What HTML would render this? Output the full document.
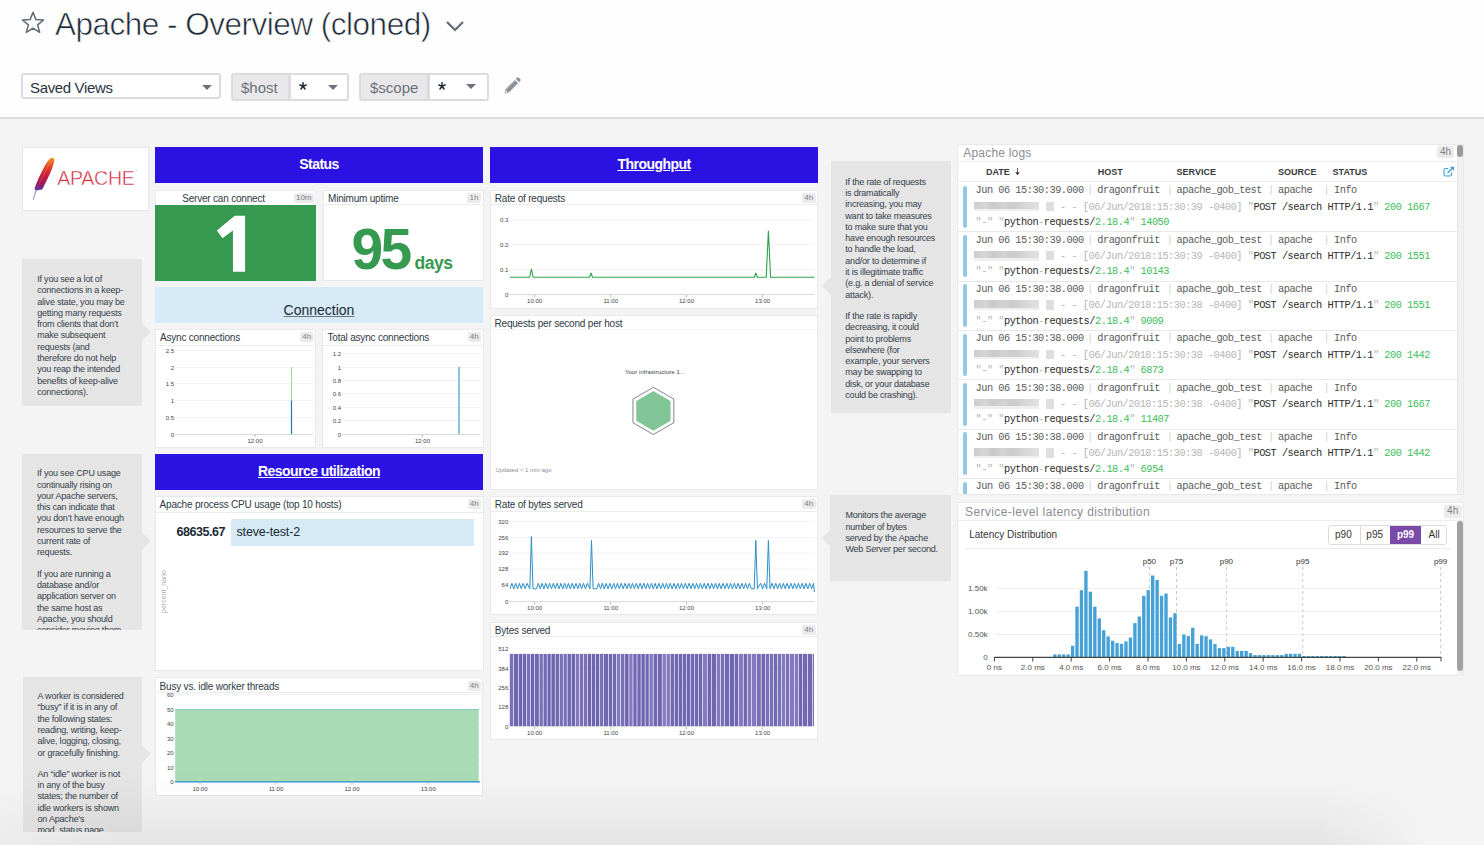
<!DOCTYPE html>
<html><head><meta charset="utf-8">
<style>
*{box-sizing:border-box;margin:0;padding:0}
html,body{width:1484px;height:845px;overflow:hidden}
body{position:relative;background:#f4f4f4;font-family:"Liberation Sans",sans-serif;color:#2a3540}
.a{position:absolute}
#hdr{left:0;top:0;width:1484px;height:117px;background:#fefefe}
#hline{left:0;top:117px;width:1484px;height:2px;background:#dddbe0}
#title{left:55px;top:4px;font-size:31.5px;line-height:40px;letter-spacing:-0.5px;color:#1c2b36;white-space:nowrap;-webkit-text-stroke:0.6px #fefefe}
.sel{border:2px solid #dcdce0;border-radius:3px;background:#fff;height:27px}
.tri{width:0;height:0;border-left:5.2px solid transparent;border-right:5.2px solid transparent;border-top:5.7px solid #6b747c}
.ctl{font-size:15px;line-height:23px;white-space:nowrap}
.vg{background:#e8e8eb;color:#6b7079}
/* widgets */
.w{background:#fff;border:1px solid #e9e9ec}
.wt{font-size:10px;color:#2e3a45;white-space:nowrap;line-height:12px;letter-spacing:-0.2px;margin-top:0.8px}
.sep{height:1px;background:#ececef}
.bd{background:#ebebed;color:#7d8186;font-size:8px;line-height:10px;text-align:center;border-radius:2px}
.hb{background:#2c12e2;color:#fff;font-weight:bold;font-size:14px;text-align:center;letter-spacing:-0.55px;line-height:34px !important}
.note{background:#e5e5e5;color:#34404a;font-size:9px;line-height:11.3px;letter-spacing:-0.2px;white-space:nowrap;overflow:hidden}
.arr{width:0;height:0;border-top:9.5px solid transparent;border-bottom:9.5px solid transparent;border-left:9.5px solid #e5e5e5}
.ax{font-size:6px;color:#4a4f55;white-space:nowrap;line-height:8px}
.mono{font-family:"Liberation Mono",monospace}
</style></head><body>
<div id="hdr" class="a"></div>
<div id="hline" class="a"></div>
<svg class="a" style="left:20px;top:10px" width="26" height="26" viewBox="0 0 26 26"><path d="M13 2.3 L15.9 9.6 L23.6 10 L17.6 14.9 L19.7 22.4 L13 18.2 L6.3 22.4 L8.4 14.9 L2.4 10 L10.1 9.6 Z" fill="none" stroke="#5f6972" stroke-width="1.5" stroke-linejoin="round"/></svg>
<div id="title" class="a">Apache - Overview (cloned)</div>
<svg class="a" style="left:445px;top:20px" width="20" height="13" viewBox="0 0 20 13"><path d="M2 2 L10 10 L18 2" fill="none" stroke="#5f6b75" stroke-width="2.2"/></svg>

<div class="a sel" style="left:21px;top:73px;width:200px;height:26px"></div>
<div class="a ctl" style="left:30px;top:75.8px;color:#2a3540;letter-spacing:-0.35px">Saved Views</div>
<div class="a tri" style="left:201.7px;top:84.6px"></div>

<div class="a sel" style="left:231px;top:73px;width:118px;height:28px"></div>
<div class="a vg" style="left:233px;top:75px;width:55px;height:24px"></div>
<div class="a" style="left:288px;top:75px;width:2.5px;height:24px;background:#dddbe0"></div>
<div class="a ctl" style="left:241px;top:76px;color:#6b7079">$host</div>
<svg class="a ast" style="left:298.5px;top:81.5px" width="8" height="8" viewBox="0 0 8 8"><g stroke="#1c2b36" stroke-width="1.5" stroke-linecap="round"><line x1="4" y1="0.8" x2="4" y2="4.2"/><line x1="0.8" y1="3" x2="4" y2="4.2"/><line x1="7.2" y1="3" x2="4" y2="4.2"/><line x1="2" y1="7" x2="4" y2="4.2"/><line x1="6" y1="7" x2="4" y2="4.2"/></g></svg>
<div class="a tri" style="left:328px;top:84.6px"></div>

<div class="a sel" style="left:359px;top:73px;width:130px;height:28px"></div>
<div class="a vg" style="left:361px;top:75px;width:66px;height:24px"></div>
<div class="a" style="left:427px;top:75px;width:2.5px;height:24px;background:#dddbe0"></div>
<div class="a ctl" style="left:370px;top:76px;color:#6b7079">$scope</div>
<svg class="a ast" style="left:437.8px;top:81.5px" width="8" height="8" viewBox="0 0 8 8"><g stroke="#1c2b36" stroke-width="1.5" stroke-linecap="round"><line x1="4" y1="0.8" x2="4" y2="4.2"/><line x1="0.8" y1="3" x2="4" y2="4.2"/><line x1="7.2" y1="3" x2="4" y2="4.2"/><line x1="2" y1="7" x2="4" y2="4.2"/><line x1="6" y1="7" x2="4" y2="4.2"/></g></svg>
<div class="a tri" style="left:465.8px;top:84.4px"></div>
<svg class="a" style="left:503px;top:77px" width="18" height="18" viewBox="0 0 18 18"><path d="M1.5 16.5 L2.6 12.2 L11.8 3 L15 6.2 L5.8 15.4 Z" fill="#8a9097"/><path d="M12.8 2 L14.2 0.6 Q15 0 15.8 0.7 L17.3 2.2 Q18 3 17.3 3.8 L16 5.2 Z" fill="#8a9097"/><path d="M2.3 15.7 L2.9 13.3 L4.7 15.1 Z" fill="#fff"/><line x1="3.5" y1="12.5" x2="12" y2="4" stroke="#fff" stroke-width="0.5" opacity="0.6"/></svg>

<!-- logo -->
<div class="a w" style="left:22px;top:147px;width:127px;height:64px;border-color:#e6e6ea"></div>
<svg class="a" style="left:30px;top:155px" width="112" height="50" viewBox="0 0 112 50">
<defs><linearGradient id="fg" x1="0" y1="0" x2="0" y2="1"><stop offset="0" stop-color="#f7941e"/><stop offset="0.3" stop-color="#e0412a"/><stop offset="0.5" stop-color="#cf1f3a"/><stop offset="0.78" stop-color="#a0185a"/><stop offset="0.92" stop-color="#6a2a88"/><stop offset="1" stop-color="#7e5aa8"/></linearGradient></defs>
<path d="M22 2.8 C23.8 2.6 24.8 4.5 24.2 6.5 C23 11 21.5 15.5 20.8 16.7 L17.7 23.5 L13.7 31.5 L12.2 34.5 L6 35.8 L4.5 34 C5 32 5.5 31 6 29.6 L8.8 22.8 L13.4 13.6 C15 10 17 7 18.3 5.6 C19.5 4 20.5 3 22 2.8 Z" fill="url(#fg)"/>
<path d="M20.5 6 L7 33" stroke="#fff" stroke-width="0.4" opacity="0.35"/>
<path d="M6.3 35 L3.2 44.7" stroke="#8a72b0" stroke-width="0.9"/>
<text x="27.2" y="30.2" font-family="Liberation Sans" font-size="19.6" fill="#d02c3e" stroke="#fff" stroke-width="0.45" letter-spacing="-0.3">APACHE</text>
<circle cx="106.5" cy="15.5" r="0.6" fill="#bbb"/>
</svg>

<!-- status header -->
<div class="a hb" style="left:155px;top:147px;width:328px;height:36px;line-height:36px">Status</div>
<!-- server can connect -->
<div class="a w" style="left:155px;top:190px;width:161px;height:91px;border-color:#ececef"></div>
<div class="a wt" style="left:155px;top:191px;width:137px;text-align:center;line-height:13px">Server can connect</div>
<div class="a bd" style="left:294px;top:192.5px;width:19.5px;height:10px">10m</div>
<div class="a" style="left:155px;top:204.5px;width:161px;height:76.5px;background:#359a50"></div>
<svg class="a" style="left:210px;top:210px" width="40" height="66" viewBox="210 210 40 66"><path d="M234.7 215.8 L245.1 215.8 L245.1 271.7 L232.95 271.7 L232.95 230.6 L222.5 238.3 L216.9 230.5 Z" fill="#fff"/></svg>
<!-- minimum uptime -->
<div class="a w" style="left:322.5px;top:190px;width:161px;height:90.5px"></div>
<div class="a wt" style="left:328px;top:191px;line-height:13px">Minimum uptime</div>
<div class="a bd" style="left:467px;top:192.5px;width:14px;height:10px">1h</div>
<div class="a sep" style="left:323px;top:204px;width:160px"></div>
<div class="a" style="left:351.5px;top:219.3px;color:#359a50;font-weight:bold;font-size:57px;line-height:60px;letter-spacing:-2.8px;white-space:nowrap">95</div><div class="a" style="left:414.5px;top:253px;color:#359a50;font-weight:bold;font-size:17.5px;line-height:20px;letter-spacing:-0.5px;white-space:nowrap">days</div>

<!-- connection -->
<div class="a" style="left:155px;top:287px;width:328px;height:35.5px;background:#d6eaf8"></div>
<div class="a" style="left:155px;top:302px;width:328px;text-align:center;font-size:14px;line-height:16px;color:#1c2b36;text-decoration:underline;text-decoration-color:#6a7680">Connection</div>

<!-- async connections -->
<div class="a w" style="left:154.5px;top:328.5px;width:161.5px;height:119px"></div>
<div class="a wt" style="left:160px;top:331px">Async connections</div>
<div class="a bd" style="left:300px;top:332px;width:13.5px;height:10px">4h</div>
<div class="a sep" style="left:155px;top:344.5px;width:160.5px"></div>
<svg class="a" style="left:155px;top:345px" width="161" height="102" viewBox="155 345 161 102">
<g stroke="#f3f3f5" stroke-width="1">
<line x1="175.5" x2="313" y1="350.5" y2="350.5"/><line x1="175.5" x2="313" y1="367.5" y2="367.5"/><line x1="175.5" x2="313" y1="383.5" y2="383.5"/><line x1="175.5" x2="313" y1="400.5" y2="400.5"/><line x1="175.5" x2="313" y1="417.5" y2="417.5"/></g>
<line x1="175.5" x2="313" y1="434.5" y2="434.5" stroke="#d8d8dc"/>
<line x1="255" x2="255" y1="434.5" y2="437" stroke="#bbb"/>
<g font-family="Liberation Sans" font-size="6" fill="#3e454c" text-anchor="end">
<text x="174" y="352.5">2.5</text><text x="174" y="369.5">2</text><text x="174" y="385.5">1.5</text><text x="174" y="402.5">1</text><text x="174" y="419.5">0.5</text><text x="174" y="436.5">0</text></g>
<text x="255" y="443" font-family="Liberation Sans" font-size="6" fill="#3e454c" text-anchor="middle">12:00</text>
<line x1="291.5" x2="291.5" y1="367" y2="400.5" stroke="#9fd89f" stroke-width="1"/>
<line x1="291.5" x2="291.5" y1="400.5" y2="434" stroke="#1f77b4" stroke-width="1.2"/>
</svg>

<!-- total async -->
<div class="a w" style="left:322.3px;top:328.5px;width:161.4px;height:119px"></div>
<div class="a wt" style="left:327.5px;top:331px">Total async connections</div>
<div class="a bd" style="left:467.5px;top:332px;width:13.5px;height:10px">4h</div>
<div class="a sep" style="left:323px;top:344.5px;width:160px"></div>
<svg class="a" style="left:323px;top:345px" width="161" height="102" viewBox="323 345 161 102">
<g stroke="#f3f3f5" stroke-width="1">
<line x1="342.5" x2="480" y1="353.5" y2="353.5"/><line x1="342.5" x2="480" y1="367.5" y2="367.5"/><line x1="342.5" x2="480" y1="380.5" y2="380.5"/><line x1="342.5" x2="480" y1="393.5" y2="393.5"/><line x1="342.5" x2="480" y1="407.5" y2="407.5"/><line x1="342.5" x2="480" y1="420.5" y2="420.5"/></g>
<line x1="342.5" x2="480" y1="434.5" y2="434.5" stroke="#d8d8dc"/>
<line x1="422.5" x2="422.5" y1="434.5" y2="437" stroke="#bbb"/>
<g font-family="Liberation Sans" font-size="6" fill="#3e454c" text-anchor="end">
<text x="341" y="355.5">1.2</text><text x="341" y="369.5">1</text><text x="341" y="382.5">0.8</text><text x="341" y="395.5">0.6</text><text x="341" y="409.5">0.4</text><text x="341" y="422.5">0.2</text><text x="341" y="436.5">0</text></g>
<text x="422.5" y="443" font-family="Liberation Sans" font-size="6" fill="#3e454c" text-anchor="middle">12:00</text>
<line x1="459" x2="459" y1="367" y2="434" stroke="#8cc3e0" stroke-width="2"/>
</svg>

<!-- resource utilization -->
<div class="a hb" style="left:155px;top:454px;width:328px;height:36px;line-height:36px"><span style="text-decoration:underline">Resource utilization</span></div>

<!-- cpu usage -->
<div class="a w" style="left:155px;top:495.7px;width:328.5px;height:175px"></div>
<div class="a wt" style="left:159.6px;top:498.5px">Apache process CPU usage (top 10 hosts)</div>
<div class="a bd" style="left:467.5px;top:499px;width:13.5px;height:10px">4h</div>
<div class="a sep" style="left:156px;top:511.5px;width:327px"></div>
<div class="a" style="left:231px;top:519px;width:243px;height:26.7px;background:#d6eaf5"></div>
<div class="a" style="left:140px;top:524px;width:85px;text-align:right;font-weight:bold;font-size:12.5px;line-height:16px;letter-spacing:-0.45px;color:#1c2b36">68635.67</div>
<div class="a" style="left:236.5px;top:524px;font-size:12.5px;line-height:16px;letter-spacing:-0.15px;color:#1c2b36">steve-test-2</div>
<div class="a" style="left:141px;top:587px;width:44px;text-align:center;font-size:7px;line-height:9px;color:#a5a9ae;transform:rotate(-90deg)">percent_nano</div>

<!-- busy vs idle -->
<div class="a w" style="left:154.6px;top:677.3px;width:328.7px;height:119px"></div>
<div class="a wt" style="left:159.6px;top:680px">Busy vs. idle worker threads</div>
<div class="a bd" style="left:467.5px;top:680.5px;width:13.5px;height:10px">4h</div>
<div class="a sep" style="left:155.5px;top:692px;width:327px"></div>
<svg class="a" style="left:155px;top:693px" width="328" height="103" viewBox="155 693 328 103">
<g stroke="#f3f3f5" stroke-width="1">
<line x1="175" x2="480" y1="694.5" y2="694.5"/><line x1="175" x2="480" y1="709.5" y2="709.5"/><line x1="175" x2="480" y1="723.5" y2="723.5"/><line x1="175" x2="480" y1="738.5" y2="738.5"/><line x1="175" x2="480" y1="752.5" y2="752.5"/><line x1="175" x2="480" y1="767.5" y2="767.5"/></g>
<rect x="175.2" y="709.4" width="303.5" height="72.2" fill="#a9dbb5"/>
<line x1="175.2" x2="478.7" y1="709.6" y2="709.6" stroke="#6cc7ad" stroke-width="0.8"/>
<line x1="175" x2="480" y1="781.8" y2="781.8" stroke="#1f8bc9" stroke-width="1.2"/>
<g stroke="#bbb"><line x1="200" x2="200" y1="782" y2="784.5"/><line x1="276" x2="276" y1="782" y2="784.5"/><line x1="352" x2="352" y1="782" y2="784.5"/><line x1="428.3" x2="428.3" y1="782" y2="784.5"/></g>
<g font-family="Liberation Sans" font-size="6" fill="#3e454c" text-anchor="end">
<text x="173.6" y="696.7">60</text><text x="173.6" y="711.5">50</text><text x="173.6" y="726">40</text><text x="173.6" y="740.5">30</text><text x="173.6" y="755">20</text><text x="173.6" y="770">10</text><text x="173.6" y="783.8">0</text></g>
<g font-family="Liberation Sans" font-size="6" fill="#3e454c" text-anchor="middle">
<text x="200" y="791">10:00</text><text x="276" y="791">11:00</text><text x="352" y="791">12:00</text><text x="428.3" y="791">13:00</text></g>
</svg>

<!-- notes left -->
<div class="a note" style="left:22.2px;top:258.5px;width:119.6px;height:147.7px;padding:15.5px 0 0 15px">If you see a lot of<br>connections in a keep-<br>alive state, you may be<br>getting many requests<br>from clients that don’t<br>make subsequent<br>requests (and<br>therefore do not help<br>you reap the intended<br>benefits of keep-alive<br>connections).</div>
<div class="a arr" style="left:141.8px;top:322.9px"></div>
<div class="a note" style="left:22px;top:453.8px;width:120px;height:175.8px;padding:14.5px 0 0 15px">If you see CPU usage<br>continually rising on<br>your Apache servers,<br>this can indicate that<br>you don’t have enough<br>resources to serve the<br>current rate of<br>requests.<div style="height:10px"></div>If you are running a<br>database and/or<br>application server on<br>the same host as<br>Apache, you should<br>consider moving them</div>
<div class="a arr" style="left:142px;top:532px"></div>
<div class="a note" style="left:22.5px;top:677.1px;width:119.7px;height:154.5px;padding:14px 0 0 15px">A worker is considered<br>“busy” if it is in any of<br>the following states:<br>reading, writing, keep-<br>alive, logging, closing,<br>or gracefully finishing.<div style="height:10px"></div>An “idle” worker is not<br>in any of the busy<br>states; the number of<br>idle workers is shown<br>on Apache’s<br>mod_status page.</div>
<div class="a arr" style="left:142.2px;top:744.5px"></div>

<!-- throughput header -->
<div class="a hb" style="left:490px;top:147px;width:328px;height:36px;line-height:36px"><span style="text-decoration:underline">Throughput</span></div>

<!-- rate of requests -->
<div class="a w" style="left:489.8px;top:189.5px;width:328px;height:119px"></div>
<div class="a wt" style="left:494.8px;top:192px">Rate of requests</div>
<div class="a bd" style="left:802px;top:192.5px;width:13.5px;height:10px">4h</div>
<div class="a sep" style="left:490.5px;top:204.3px;width:326.5px"></div>
<svg class="a" style="left:490px;top:205px" width="328" height="103" viewBox="490 205 328 103">
<g stroke="#f3f3f5" stroke-width="1">
<line x1="510" x2="814.4" y1="220" y2="220"/><line x1="510" x2="814.4" y1="244.5" y2="244.5"/><line x1="510" x2="814.4" y1="269.5" y2="269.5"/></g>
<line x1="510" x2="814.4" y1="294.6" y2="294.6" stroke="#d8d8dc"/>
<g stroke="#bbb"><line x1="534.6" x2="534.6" y1="295" y2="297.5"/><line x1="610.7" x2="610.7" y1="295" y2="297.5"/><line x1="686.5" x2="686.5" y1="295" y2="297.5"/><line x1="762.6" x2="762.6" y1="295" y2="297.5"/></g>
<g font-family="Liberation Sans" font-size="6" fill="#3e454c" text-anchor="end">
<text x="508.3" y="222">0.3</text><text x="508.3" y="246.7">0.2</text><text x="508.3" y="271.7">0.1</text><text x="508.3" y="296.7">0</text></g>
<g font-family="Liberation Sans" font-size="6" fill="#3e454c" text-anchor="middle"><text x="534.6" y="303">10:00</text><text x="610.7" y="303">11:00</text><text x="686.5" y="303">12:00</text><text x="762.6" y="303">13:00</text></g>
<path d="M510.0 277.3 L529.6 277.3 L531.4 269.0 L533.2 277.3 L589.5 277.3 L591.0 273.0 L592.5 277.3 L754.3 277.3 L755.8 273.0 L757.3 277.3 L766.2 277.3 L768.4 231.0 L770.6 277.3 L814.4 277.3" fill="none" stroke="#2ea24a" stroke-width="1.1" stroke-linejoin="round"/>
</svg>

<!-- requests per second per host -->
<div class="a w" style="left:489.8px;top:314.7px;width:328px;height:175.4px"></div>
<div class="a wt" style="left:494.5px;top:317px">Requests per second per host</div>
<div class="a sep" style="left:490.5px;top:329px;width:326.5px;background:#f4f4f6"></div>
<div class="a" style="left:590px;top:367.5px;width:130px;text-align:center;font-size:6px;line-height:8px;letter-spacing:0.05px;color:#3a4047">Your infrastructure 1...</div>
<svg class="a" style="left:628px;top:384px" width="52" height="54" viewBox="628 384 52 54">
<polygon points="653.40,387.30 673.84,399.10 673.84,422.70 653.40,434.50 632.96,422.70 632.96,399.10" fill="none" stroke="#2f3336" stroke-width="0.6"/>
<polygon points="653.40,391.10 670.55,401.00 670.55,420.80 653.40,430.70 636.25,420.80 636.25,401.00" fill="#82c596"/>
</svg>
<div class="a" style="left:495.6px;top:465.8px;font-size:6px;line-height:8px;color:#8a8f95;white-space:nowrap">Updated &lt; 1 min ago</div>

<!-- rate of bytes served -->
<div class="a w" style="left:490px;top:496px;width:328px;height:119.3px"></div>
<div class="a wt" style="left:494.8px;top:498.5px">Rate of bytes served</div>
<div class="a bd" style="left:802px;top:499px;width:13.5px;height:10px">4h</div>
<div class="a sep" style="left:490.5px;top:511.3px;width:326.5px"></div>
<svg class="a" style="left:490px;top:512px" width="328" height="103" viewBox="490 512 328 103">
<g stroke="#f3f3f5" stroke-width="1">
<line x1="510" x2="814.4" y1="521.3" y2="521.3"/><line x1="510" x2="814.4" y1="537.5" y2="537.5"/><line x1="510" x2="814.4" y1="553.2" y2="553.2"/><line x1="510" x2="814.4" y1="569.2" y2="569.2"/><line x1="510" x2="814.4" y1="585" y2="585"/></g>
<line x1="510" x2="814.4" y1="601.6" y2="601.6" stroke="#d8d8dc"/>
<g stroke="#bbb"><line x1="534.6" x2="534.6" y1="602" y2="604.5"/><line x1="610.7" x2="610.7" y1="602" y2="604.5"/><line x1="686.5" x2="686.5" y1="602" y2="604.5"/><line x1="762.6" x2="762.6" y1="602" y2="604.5"/></g>
<g font-family="Liberation Sans" font-size="6" fill="#3e454c" text-anchor="end">
<text x="508.3" y="523.5">320</text><text x="508.3" y="539.7">256</text><text x="508.3" y="555.4">192</text><text x="508.3" y="571.4">128</text><text x="508.3" y="587.2">64</text><text x="508.3" y="603.8">0</text></g>
<g font-family="Liberation Sans" font-size="6" fill="#3e454c" text-anchor="middle"><text x="534.6" y="610">10:00</text><text x="610.7" y="610">11:00</text><text x="686.5" y="610">12:00</text><text x="762.6" y="610">13:00</text></g>
<path d="M510.0 588.8 L511.9 583.3 L513.8 588.8 L515.7 583.3 L517.5 588.8 L519.4 583.3 L521.3 588.8 L523.2 583.3 L525.1 588.8 L527.0 583.3 L529.8 588.8 L531.4 536.5 L533.0 588.8 L536.4 588.8 L538.3 583.3 L540.2 588.8 L542.0 583.3 L543.9 588.8 L545.8 583.3 L547.7 588.8 L549.6 583.3 L551.5 588.8 L553.4 583.3 L555.2 588.8 L557.1 583.3 L559.0 588.8 L560.9 583.3 L562.8 588.8 L564.7 583.3 L566.5 588.8 L568.4 583.3 L570.3 588.8 L572.2 583.3 L574.1 588.8 L576.0 583.3 L577.9 588.8 L579.7 583.3 L581.6 588.8 L583.5 583.3 L585.4 588.8 L587.3 583.3 L589.9 588.8 L591.5 540.5 L593.1 588.8 L596.7 588.8 L598.6 583.3 L600.5 588.8 L602.4 583.3 L604.2 588.8 L606.1 583.3 L608.0 588.8 L609.9 583.3 L611.8 588.8 L613.7 583.3 L615.6 588.8 L617.4 583.3 L619.3 588.8 L621.2 583.3 L623.1 588.8 L625.0 583.3 L626.9 588.8 L628.8 583.3 L630.6 588.8 L632.5 583.3 L634.4 588.8 L636.3 583.3 L638.2 588.8 L640.1 583.3 L642.0 588.8 L643.8 583.3 L645.7 588.8 L647.6 583.3 L649.5 588.8 L651.4 583.3 L653.3 588.8 L655.1 583.3 L657.0 588.8 L658.9 583.3 L660.8 588.8 L662.7 583.3 L664.6 588.8 L666.5 583.3 L668.3 588.8 L670.2 583.3 L672.1 588.8 L674.0 583.3 L675.9 588.8 L677.8 583.3 L679.6 588.8 L681.5 583.3 L683.4 588.8 L685.3 583.3 L687.2 588.8 L689.1 583.3 L691.0 588.8 L692.8 583.3 L694.7 588.8 L696.6 583.3 L698.5 588.8 L700.4 583.3 L702.3 588.8 L704.2 583.3 L706.0 588.8 L707.9 583.3 L709.8 588.8 L711.7 583.3 L713.6 588.8 L715.5 583.3 L717.4 588.8 L719.2 583.3 L721.1 588.8 L723.0 583.3 L724.9 588.8 L726.8 583.3 L728.7 588.8 L730.5 583.3 L732.4 588.8 L734.3 583.3 L736.2 588.8 L738.1 583.3 L740.0 588.8 L741.9 583.3 L743.7 588.8 L745.6 583.3 L747.5 588.8 L749.4 583.3 L751.3 588.8 L754.2 588.8 L755.8 540.5 L757.4 588.8 L760.7 583.3 L762.6 588.8 L764.5 583.3 L766.8 588.8 L768.4 540.5 L770.0 588.8 L772.0 583.3 L773.9 588.8 L775.8 583.3 L777.7 588.8 L779.6 583.3 L781.4 588.8 L783.3 583.3 L785.2 588.8 L787.1 583.3 L789.0 588.8 L790.9 583.3 L792.8 588.8 L794.6 583.3 L796.5 588.8 L798.4 583.3 L800.3 588.8 L802.2 583.3 L804.1 588.8 L805.9 583.3 L807.8 588.8 L809.7 583.3 L811.6 588.8 L813.5 583.3 L814.4 592.0" fill="none" stroke="#2b8fc8" stroke-width="1" stroke-linejoin="round"/>
</svg>

<!-- bytes served -->
<div class="a w" style="left:490px;top:621.8px;width:328px;height:118.2px"></div>
<div class="a wt" style="left:494.8px;top:624px">Bytes served</div>
<div class="a bd" style="left:802px;top:625px;width:13.5px;height:10px">4h</div>
<div class="a sep" style="left:490.5px;top:636.2px;width:326.5px"></div>
<svg class="a" style="left:490px;top:637px" width="328" height="103" viewBox="490 637 328 103">
<g stroke="#f3f3f5" stroke-width="1">
<line x1="510" x2="814.4" y1="648.8" y2="648.8"/><line x1="510" x2="814.4" y1="668.3" y2="668.3"/><line x1="510" x2="814.4" y1="687.7" y2="687.7"/><line x1="510" x2="814.4" y1="706.8" y2="706.8"/></g>
<g fill="#7b70bd"><rect x="509.80" y="653.9" width="3.40" height="72.5" fill="#7a70b8"/><rect x="513.85" y="653.9" width="4.20" height="72.5" fill="#6f64b0"/><rect x="518.70" y="653.9" width="3.30" height="72.5" fill="#6f64b0"/><rect x="522.65" y="653.9" width="3.40" height="72.5" fill="#6f64b0"/><rect x="526.70" y="653.9" width="3.40" height="72.5" fill="#7a70b8"/><rect x="530.75" y="653.9" width="3.30" height="72.5" fill="#6f64b0"/><rect x="534.70" y="653.9" width="4.20" height="72.5" fill="#7268b2"/><rect x="539.55" y="653.9" width="3.30" height="72.5" fill="#7a70b8"/><rect x="543.50" y="653.9" width="3.30" height="72.5" fill="#7268b2"/><rect x="547.45" y="653.9" width="3.30" height="72.5" fill="#6f64b0"/><rect x="551.40" y="653.9" width="3.50" height="72.5" fill="#6f64b0"/><rect x="555.55" y="653.9" width="3.40" height="72.5" fill="#7268b2"/><rect x="559.60" y="653.9" width="3.30" height="72.5" fill="#7a70b8"/><rect x="563.55" y="653.9" width="3.30" height="72.5" fill="#7a70b8"/><rect x="567.50" y="653.9" width="3.40" height="72.5" fill="#7268b2"/><rect x="571.55" y="653.9" width="3.50" height="72.5" fill="#6f64b0"/><rect x="575.70" y="653.9" width="3.40" height="72.5" fill="#8479bf"/><rect x="579.75" y="653.9" width="3.40" height="72.5" fill="#7a70b8"/><rect x="583.80" y="653.9" width="3.30" height="72.5" fill="#7a70b8"/><rect x="587.75" y="653.9" width="3.40" height="72.5" fill="#6f64b0"/><rect x="591.80" y="653.9" width="3.40" height="72.5" fill="#6f64b0"/><rect x="595.85" y="653.9" width="3.40" height="72.5" fill="#6f64b0"/><rect x="599.90" y="653.9" width="3.40" height="72.5" fill="#7a70b8"/><rect x="603.95" y="653.9" width="4.20" height="72.5" fill="#7268b2"/><rect x="608.80" y="653.9" width="3.40" height="72.5" fill="#7268b2"/><rect x="612.85" y="653.9" width="3.40" height="72.5" fill="#7268b2"/><rect x="616.90" y="653.9" width="3.40" height="72.5" fill="#8479bf"/><rect x="620.95" y="653.9" width="3.50" height="72.5" fill="#7a70b8"/><rect x="625.10" y="653.9" width="3.50" height="72.5" fill="#6f64b0"/><rect x="629.25" y="653.9" width="3.40" height="72.5" fill="#8479bf"/><rect x="633.30" y="653.9" width="3.40" height="72.5" fill="#7268b2"/><rect x="637.35" y="653.9" width="3.40" height="72.5" fill="#7268b2"/><rect x="641.40" y="653.9" width="3.40" height="72.5" fill="#6f64b0"/><rect x="645.45" y="653.9" width="3.30" height="72.5" fill="#7268b2"/><rect x="649.40" y="653.9" width="3.50" height="72.5" fill="#8479bf"/><rect x="653.55" y="653.9" width="3.50" height="72.5" fill="#7268b2"/><rect x="657.70" y="653.9" width="4.20" height="72.5" fill="#6f64b0"/><rect x="662.55" y="653.9" width="3.30" height="72.5" fill="#8479bf"/><rect x="666.50" y="653.9" width="3.40" height="72.5" fill="#8479bf"/><rect x="670.55" y="653.9" width="3.40" height="72.5" fill="#7268b2"/><rect x="674.60" y="653.9" width="3.40" height="72.5" fill="#7268b2"/><rect x="678.65" y="653.9" width="3.30" height="72.5" fill="#6f64b0"/><rect x="682.60" y="653.9" width="3.40" height="72.5" fill="#7268b2"/><rect x="686.65" y="653.9" width="3.30" height="72.5" fill="#6f64b0"/><rect x="690.60" y="653.9" width="3.40" height="72.5" fill="#7268b2"/><rect x="694.65" y="653.9" width="3.40" height="72.5" fill="#7268b2"/><rect x="698.70" y="653.9" width="3.40" height="72.5" fill="#6f64b0"/><rect x="702.75" y="653.9" width="4.20" height="72.5" fill="#8479bf"/><rect x="707.60" y="653.9" width="3.50" height="72.5" fill="#6f64b0"/><rect x="711.75" y="653.9" width="4.20" height="72.5" fill="#6f64b0"/><rect x="716.60" y="653.9" width="3.50" height="72.5" fill="#8479bf"/><rect x="720.75" y="653.9" width="3.50" height="72.5" fill="#7a70b8"/><rect x="724.90" y="653.9" width="4.20" height="72.5" fill="#7268b2"/><rect x="729.75" y="653.9" width="4.20" height="72.5" fill="#6f64b0"/><rect x="734.60" y="653.9" width="3.50" height="72.5" fill="#7268b2"/><rect x="738.75" y="653.9" width="4.20" height="72.5" fill="#8479bf"/><rect x="743.60" y="653.9" width="3.50" height="72.5" fill="#7268b2"/><rect x="747.75" y="653.9" width="3.40" height="72.5" fill="#8479bf"/><rect x="751.80" y="653.9" width="4.20" height="72.5" fill="#8479bf"/><rect x="756.65" y="653.9" width="4.20" height="72.5" fill="#7a70b8"/><rect x="761.50" y="653.9" width="3.50" height="72.5" fill="#6f64b0"/><rect x="765.65" y="653.9" width="3.50" height="72.5" fill="#7a70b8"/><rect x="769.80" y="653.9" width="3.50" height="72.5" fill="#7a70b8"/><rect x="773.95" y="653.9" width="3.30" height="72.5" fill="#7268b2"/><rect x="777.90" y="653.9" width="3.40" height="72.5" fill="#7a70b8"/><rect x="781.95" y="653.9" width="3.40" height="72.5" fill="#8479bf"/><rect x="786.00" y="653.9" width="3.30" height="72.5" fill="#7a70b8"/><rect x="789.95" y="653.9" width="4.20" height="72.5" fill="#8479bf"/><rect x="794.80" y="653.9" width="3.40" height="72.5" fill="#8479bf"/><rect x="798.85" y="653.9" width="3.50" height="72.5" fill="#6f64b0"/><rect x="803.00" y="653.9" width="4.20" height="72.5" fill="#7268b2"/><rect x="807.85" y="653.9" width="4.20" height="72.5" fill="#7268b2"/><rect x="812.70" y="653.9" width="1.20" height="72.5" fill="#6f64b0"/></g>
<line x1="510" x2="814.4" y1="726.6" y2="726.6" stroke="#d8d8dc"/>
<g stroke="#bbb"><line x1="534.6" x2="534.6" y1="727" y2="729.5"/><line x1="610.7" x2="610.7" y1="727" y2="729.5"/><line x1="686.5" x2="686.5" y1="727" y2="729.5"/><line x1="762.6" x2="762.6" y1="727" y2="729.5"/></g>
<g font-family="Liberation Sans" font-size="6" fill="#3e454c" text-anchor="end">
<text x="508.3" y="651">512</text><text x="508.3" y="670.5">384</text><text x="508.3" y="689.9">256</text><text x="508.3" y="709">128</text><text x="508.3" y="728.6">0</text></g>
<g font-family="Liberation Sans" font-size="6" fill="#3e454c" text-anchor="middle"><text x="534.6" y="735">10:00</text><text x="610.7" y="735">11:00</text><text x="686.5" y="735">12:00</text><text x="762.6" y="735">13:00</text></g>
</svg>

<!-- notes middle -->
<div class="a note" style="left:830.8px;top:161.2px;width:120.3px;height:251.8px;padding:15.5px 0 0 14.5px">If the rate of requests<br>is dramatically<br>increasing, you may<br>want to take measures<br>to make sure that you<br>have enough resources<br>to handle the load,<br>and/or to determine if<br>it is illegitimate traffic<br>(e.g. a denial of service<br>attack).<div style="height:10px"></div>If the rate is rapidly<br>decreasing, it could<br>point to problems<br>elsewhere (for<br>example, your servers<br>may be swapping to<br>disk, or your database<br>could be crashing).</div>
<div class="a" style="left:821.5px;top:277px;width:0;height:0;border-top:9.5px solid transparent;border-bottom:9.5px solid transparent;border-right:9.5px solid #e5e5e5"></div>
<div class="a note" style="left:830.4px;top:495.3px;width:120.5px;height:85.6px;padding:15px 0 0 15px">Monitors the average<br>number of bytes<br>served by the Apache<br>Web Server per second.</div>
<div class="a" style="left:821.5px;top:528.5px;width:0;height:0;border-top:9.5px solid transparent;border-bottom:9.5px solid transparent;border-right:9.5px solid #e5e5e5"></div>
<!--LOGS-->
<div class="a w" style="left:956.5px;top:143.5px;width:507px;height:351px;overflow:hidden">
<div class="a" style="left:5.8px;top:1.5px;font-size:12px;line-height:14px;letter-spacing:0.2px;color:#8b8e92;white-space:nowrap">Apache logs</div>
<div class="a bd" style="left:479.5px;top:1.7px;width:17px;height:12.3px;font-size:10px;line-height:12.3px;border-radius:2px">4h</div>
<div class="a sep" style="left:0;top:16.5px;width:499px;background:#ededf0"></div>
<div class="a sep" style="left:0;top:36.5px;width:499px;background:#ededf0"></div>
<div class="a" style="left:28.4px;top:21.5px;font-size:9px;line-height:12px;font-weight:bold;color:#38393b;white-space:nowrap">DATE</div>
<div class="a" style="left:140.3px;top:21.5px;font-size:9px;line-height:12px;font-weight:bold;color:#38393b;white-space:nowrap">HOST</div>
<div class="a" style="left:219.1px;top:21.5px;font-size:9px;line-height:12px;font-weight:bold;color:#38393b;white-space:nowrap">SERVICE</div>
<div class="a" style="left:320.5px;top:21.5px;font-size:9px;line-height:12px;font-weight:bold;color:#38393b;white-space:nowrap">SOURCE</div>
<div class="a" style="left:375.1px;top:21.5px;font-size:9px;line-height:12px;font-weight:bold;color:#38393b;white-space:nowrap">STATUS</div>
<svg class="a" style="left:57.0px;top:23.5px" width="5" height="8" viewBox="0 0 5 8"><line x1="2.5" y1="0" x2="2.5" y2="5" stroke="#666" stroke-width="1"/><path d="M0.3 4.3 L4.7 4.3 L2.5 7.3 Z" fill="#333"/></svg>
<svg class="a" style="left:485.0px;top:21.5px" width="12" height="11" viewBox="0 0 12 11"><path d="M5 2.5 H2.5 Q1 2.5 1 4 V8.5 Q1 10 2.5 10 H7 Q8.5 10 8.5 8.5 V6.5" fill="none" stroke="#3b9fd9" stroke-width="1.1"/><path d="M4.5 7 L10 1.5" stroke="#3b9fd9" stroke-width="1.3"/><path d="M7 0.8 H11 V4.8 Z" fill="#3b9fd9"/></svg>
<div class="a" style="left:499.0px;top:0;width:6px;height:350px;background:#f0f0f0;border-left:1px solid #e6e6e6"></div>
<div class="a" style="left:499.5px;top:0.0px;width:6px;height:12px;background:#9a9a9a;border-radius:3px"></div>
<div class="a" style="left:5.0px;top:41.1px;width:4.7px;height:42.6px;background:#92c8e3;border-radius:2.4px"></div>
<div class="a" style="left:18.0px;top:39.9px;font-family:'Liberation Mono',monospace;font-size:10.3px;letter-spacing:-0.49px;line-height:12px;white-space:nowrap;color:#5a5a5a">Jun 06 15:30:39.000</div>
<div class="a" style="left:129.6px;top:39.9px;font-family:'Liberation Mono',monospace;font-size:10.3px;letter-spacing:-0.49px;line-height:12px;white-space:nowrap;color:#d2d2d2">|</div>
<div class="a" style="left:139.8px;top:39.9px;font-family:'Liberation Mono',monospace;font-size:10.3px;letter-spacing:-0.49px;line-height:12px;white-space:nowrap;color:#5a5a5a">dragonfruit</div>
<div class="a" style="left:209.3px;top:39.9px;font-family:'Liberation Mono',monospace;font-size:10.3px;letter-spacing:-0.49px;line-height:12px;white-space:nowrap;color:#d2d2d2">|</div>
<div class="a" style="left:219.1px;top:39.9px;font-family:'Liberation Mono',monospace;font-size:10.3px;letter-spacing:-0.49px;line-height:12px;white-space:nowrap;color:#5a5a5a">apache_gob_test</div>
<div class="a" style="left:310.5px;top:39.9px;font-family:'Liberation Mono',monospace;font-size:10.3px;letter-spacing:-0.49px;line-height:12px;white-space:nowrap;color:#d2d2d2">|</div>
<div class="a" style="left:320.5px;top:39.9px;font-family:'Liberation Mono',monospace;font-size:10.3px;letter-spacing:-0.49px;line-height:12px;white-space:nowrap;color:#5a5a5a">apache</div>
<div class="a" style="left:366.1px;top:39.9px;font-family:'Liberation Mono',monospace;font-size:10.3px;letter-spacing:-0.49px;line-height:12px;white-space:nowrap;color:#d2d2d2">|</div>
<div class="a" style="left:376.5px;top:39.9px;font-family:'Liberation Mono',monospace;font-size:10.3px;letter-spacing:-0.49px;line-height:12px;white-space:nowrap;color:#5a5a5a">Info</div>
<div class="a" style="left:16.5px;top:57.1px;width:65px;height:7.3px;background:linear-gradient(90deg,#cdcdcd 0%,#d6d6d6 18%,#c9c9c9 30%,#d3d3d3 45%,#cbcbcb 60%,#d8d8d8 80%,#e2e2e2 100%)"></div>
<div class="a" style="left:16.5px;top:64.4px;width:65px;height:2.5px;background:#efefef"></div>
<div class="a" style="left:88.5px;top:57.1px;width:8px;height:9.5px;background:#dedede"></div>
<div class="a" style="left:102.5px;top:56.2px;font-family:'Liberation Mono',monospace;font-size:10.3px;letter-spacing:-0.49px;line-height:12px;white-space:nowrap"><span style="color:#b5b5b5">- - [06/Jun/2018:15:30:39 -0400] "</span><span style="color:#2b2b2b">POST /search HTTP/1.1</span><span style="color:#b5b5b5">"</span> <span style="color:#3dbd5c">200 1667</span></div>
<div class="a" style="left:18.0px;top:71.5px;font-family:'Liberation Mono',monospace;font-size:10.3px;letter-spacing:-0.49px;line-height:12px;white-space:nowrap"><span style="color:#b5b5b5">"-" "</span><span style="color:#2b2b2b">python</span><span style="color:#b5b5b5">-</span><span style="color:#2b2b2b">requests/</span><span style="color:#3dbd5c">2.18.4</span><span style="color:#b5b5b5">"</span> <span style="color:#3dbd5c">14050</span></div>
<div class="a sep" style="left:0;top:86.7px;width:499px;background:#e8e8eb"></div>
<div class="a" style="left:5.0px;top:90.4px;width:4.7px;height:42.6px;background:#92c8e3;border-radius:2.4px"></div>
<div class="a" style="left:18.0px;top:89.2px;font-family:'Liberation Mono',monospace;font-size:10.3px;letter-spacing:-0.49px;line-height:12px;white-space:nowrap;color:#5a5a5a">Jun 06 15:30:39.000</div>
<div class="a" style="left:129.6px;top:89.2px;font-family:'Liberation Mono',monospace;font-size:10.3px;letter-spacing:-0.49px;line-height:12px;white-space:nowrap;color:#d2d2d2">|</div>
<div class="a" style="left:139.8px;top:89.2px;font-family:'Liberation Mono',monospace;font-size:10.3px;letter-spacing:-0.49px;line-height:12px;white-space:nowrap;color:#5a5a5a">dragonfruit</div>
<div class="a" style="left:209.3px;top:89.2px;font-family:'Liberation Mono',monospace;font-size:10.3px;letter-spacing:-0.49px;line-height:12px;white-space:nowrap;color:#d2d2d2">|</div>
<div class="a" style="left:219.1px;top:89.2px;font-family:'Liberation Mono',monospace;font-size:10.3px;letter-spacing:-0.49px;line-height:12px;white-space:nowrap;color:#5a5a5a">apache_gob_test</div>
<div class="a" style="left:310.5px;top:89.2px;font-family:'Liberation Mono',monospace;font-size:10.3px;letter-spacing:-0.49px;line-height:12px;white-space:nowrap;color:#d2d2d2">|</div>
<div class="a" style="left:320.5px;top:89.2px;font-family:'Liberation Mono',monospace;font-size:10.3px;letter-spacing:-0.49px;line-height:12px;white-space:nowrap;color:#5a5a5a">apache</div>
<div class="a" style="left:366.1px;top:89.2px;font-family:'Liberation Mono',monospace;font-size:10.3px;letter-spacing:-0.49px;line-height:12px;white-space:nowrap;color:#d2d2d2">|</div>
<div class="a" style="left:376.5px;top:89.2px;font-family:'Liberation Mono',monospace;font-size:10.3px;letter-spacing:-0.49px;line-height:12px;white-space:nowrap;color:#5a5a5a">Info</div>
<div class="a" style="left:16.5px;top:106.4px;width:65px;height:7.3px;background:linear-gradient(90deg,#cdcdcd 0%,#d6d6d6 18%,#c9c9c9 30%,#d3d3d3 45%,#cbcbcb 60%,#d8d8d8 80%,#e2e2e2 100%)"></div>
<div class="a" style="left:16.5px;top:113.7px;width:65px;height:2.5px;background:#efefef"></div>
<div class="a" style="left:88.5px;top:106.4px;width:8px;height:9.5px;background:#dedede"></div>
<div class="a" style="left:102.5px;top:105.5px;font-family:'Liberation Mono',monospace;font-size:10.3px;letter-spacing:-0.49px;line-height:12px;white-space:nowrap"><span style="color:#b5b5b5">- - [06/Jun/2018:15:30:39 -0400] "</span><span style="color:#2b2b2b">POST /search HTTP/1.1</span><span style="color:#b5b5b5">"</span> <span style="color:#3dbd5c">200 1551</span></div>
<div class="a" style="left:18.0px;top:120.8px;font-family:'Liberation Mono',monospace;font-size:10.3px;letter-spacing:-0.49px;line-height:12px;white-space:nowrap"><span style="color:#b5b5b5">"-" "</span><span style="color:#2b2b2b">python</span><span style="color:#b5b5b5">-</span><span style="color:#2b2b2b">requests/</span><span style="color:#3dbd5c">2.18.4</span><span style="color:#b5b5b5">"</span> <span style="color:#3dbd5c">10143</span></div>
<div class="a sep" style="left:0;top:136.0px;width:499px;background:#e8e8eb"></div>
<div class="a" style="left:5.0px;top:139.8px;width:4.7px;height:42.6px;background:#92c8e3;border-radius:2.4px"></div>
<div class="a" style="left:18.0px;top:138.6px;font-family:'Liberation Mono',monospace;font-size:10.3px;letter-spacing:-0.49px;line-height:12px;white-space:nowrap;color:#5a5a5a">Jun 06 15:30:38.000</div>
<div class="a" style="left:129.6px;top:138.6px;font-family:'Liberation Mono',monospace;font-size:10.3px;letter-spacing:-0.49px;line-height:12px;white-space:nowrap;color:#d2d2d2">|</div>
<div class="a" style="left:139.8px;top:138.6px;font-family:'Liberation Mono',monospace;font-size:10.3px;letter-spacing:-0.49px;line-height:12px;white-space:nowrap;color:#5a5a5a">dragonfruit</div>
<div class="a" style="left:209.3px;top:138.6px;font-family:'Liberation Mono',monospace;font-size:10.3px;letter-spacing:-0.49px;line-height:12px;white-space:nowrap;color:#d2d2d2">|</div>
<div class="a" style="left:219.1px;top:138.6px;font-family:'Liberation Mono',monospace;font-size:10.3px;letter-spacing:-0.49px;line-height:12px;white-space:nowrap;color:#5a5a5a">apache_gob_test</div>
<div class="a" style="left:310.5px;top:138.6px;font-family:'Liberation Mono',monospace;font-size:10.3px;letter-spacing:-0.49px;line-height:12px;white-space:nowrap;color:#d2d2d2">|</div>
<div class="a" style="left:320.5px;top:138.6px;font-family:'Liberation Mono',monospace;font-size:10.3px;letter-spacing:-0.49px;line-height:12px;white-space:nowrap;color:#5a5a5a">apache</div>
<div class="a" style="left:366.1px;top:138.6px;font-family:'Liberation Mono',monospace;font-size:10.3px;letter-spacing:-0.49px;line-height:12px;white-space:nowrap;color:#d2d2d2">|</div>
<div class="a" style="left:376.5px;top:138.6px;font-family:'Liberation Mono',monospace;font-size:10.3px;letter-spacing:-0.49px;line-height:12px;white-space:nowrap;color:#5a5a5a">Info</div>
<div class="a" style="left:16.5px;top:155.8px;width:65px;height:7.3px;background:linear-gradient(90deg,#cdcdcd 0%,#d6d6d6 18%,#c9c9c9 30%,#d3d3d3 45%,#cbcbcb 60%,#d8d8d8 80%,#e2e2e2 100%)"></div>
<div class="a" style="left:16.5px;top:163.1px;width:65px;height:2.5px;background:#efefef"></div>
<div class="a" style="left:88.5px;top:155.8px;width:8px;height:9.5px;background:#dedede"></div>
<div class="a" style="left:102.5px;top:154.9px;font-family:'Liberation Mono',monospace;font-size:10.3px;letter-spacing:-0.49px;line-height:12px;white-space:nowrap"><span style="color:#b5b5b5">- - [06/Jun/2018:15:30:38 -0400] "</span><span style="color:#2b2b2b">POST /search HTTP/1.1</span><span style="color:#b5b5b5">"</span> <span style="color:#3dbd5c">200 1551</span></div>
<div class="a" style="left:18.0px;top:170.2px;font-family:'Liberation Mono',monospace;font-size:10.3px;letter-spacing:-0.49px;line-height:12px;white-space:nowrap"><span style="color:#b5b5b5">"-" "</span><span style="color:#2b2b2b">python</span><span style="color:#b5b5b5">-</span><span style="color:#2b2b2b">requests/</span><span style="color:#3dbd5c">2.18.4</span><span style="color:#b5b5b5">"</span> <span style="color:#3dbd5c">9009</span></div>
<div class="a sep" style="left:0;top:185.4px;width:499px;background:#e8e8eb"></div>
<div class="a" style="left:5.0px;top:189.1px;width:4.7px;height:42.6px;background:#92c8e3;border-radius:2.4px"></div>
<div class="a" style="left:18.0px;top:187.9px;font-family:'Liberation Mono',monospace;font-size:10.3px;letter-spacing:-0.49px;line-height:12px;white-space:nowrap;color:#5a5a5a">Jun 06 15:30:38.000</div>
<div class="a" style="left:129.6px;top:187.9px;font-family:'Liberation Mono',monospace;font-size:10.3px;letter-spacing:-0.49px;line-height:12px;white-space:nowrap;color:#d2d2d2">|</div>
<div class="a" style="left:139.8px;top:187.9px;font-family:'Liberation Mono',monospace;font-size:10.3px;letter-spacing:-0.49px;line-height:12px;white-space:nowrap;color:#5a5a5a">dragonfruit</div>
<div class="a" style="left:209.3px;top:187.9px;font-family:'Liberation Mono',monospace;font-size:10.3px;letter-spacing:-0.49px;line-height:12px;white-space:nowrap;color:#d2d2d2">|</div>
<div class="a" style="left:219.1px;top:187.9px;font-family:'Liberation Mono',monospace;font-size:10.3px;letter-spacing:-0.49px;line-height:12px;white-space:nowrap;color:#5a5a5a">apache_gob_test</div>
<div class="a" style="left:310.5px;top:187.9px;font-family:'Liberation Mono',monospace;font-size:10.3px;letter-spacing:-0.49px;line-height:12px;white-space:nowrap;color:#d2d2d2">|</div>
<div class="a" style="left:320.5px;top:187.9px;font-family:'Liberation Mono',monospace;font-size:10.3px;letter-spacing:-0.49px;line-height:12px;white-space:nowrap;color:#5a5a5a">apache</div>
<div class="a" style="left:366.1px;top:187.9px;font-family:'Liberation Mono',monospace;font-size:10.3px;letter-spacing:-0.49px;line-height:12px;white-space:nowrap;color:#d2d2d2">|</div>
<div class="a" style="left:376.5px;top:187.9px;font-family:'Liberation Mono',monospace;font-size:10.3px;letter-spacing:-0.49px;line-height:12px;white-space:nowrap;color:#5a5a5a">Info</div>
<div class="a" style="left:16.5px;top:205.1px;width:65px;height:7.3px;background:linear-gradient(90deg,#cdcdcd 0%,#d6d6d6 18%,#c9c9c9 30%,#d3d3d3 45%,#cbcbcb 60%,#d8d8d8 80%,#e2e2e2 100%)"></div>
<div class="a" style="left:16.5px;top:212.4px;width:65px;height:2.5px;background:#efefef"></div>
<div class="a" style="left:88.5px;top:205.1px;width:8px;height:9.5px;background:#dedede"></div>
<div class="a" style="left:102.5px;top:204.2px;font-family:'Liberation Mono',monospace;font-size:10.3px;letter-spacing:-0.49px;line-height:12px;white-space:nowrap"><span style="color:#b5b5b5">- - [06/Jun/2018:15:30:38 -0400] "</span><span style="color:#2b2b2b">POST /search HTTP/1.1</span><span style="color:#b5b5b5">"</span> <span style="color:#3dbd5c">200 1442</span></div>
<div class="a" style="left:18.0px;top:219.5px;font-family:'Liberation Mono',monospace;font-size:10.3px;letter-spacing:-0.49px;line-height:12px;white-space:nowrap"><span style="color:#b5b5b5">"-" "</span><span style="color:#2b2b2b">python</span><span style="color:#b5b5b5">-</span><span style="color:#2b2b2b">requests/</span><span style="color:#3dbd5c">2.18.4</span><span style="color:#b5b5b5">"</span> <span style="color:#3dbd5c">6873</span></div>
<div class="a sep" style="left:0;top:234.7px;width:499px;background:#e8e8eb"></div>
<div class="a" style="left:5.0px;top:238.5px;width:4.7px;height:42.6px;background:#92c8e3;border-radius:2.4px"></div>
<div class="a" style="left:18.0px;top:237.3px;font-family:'Liberation Mono',monospace;font-size:10.3px;letter-spacing:-0.49px;line-height:12px;white-space:nowrap;color:#5a5a5a">Jun 06 15:30:38.000</div>
<div class="a" style="left:129.6px;top:237.3px;font-family:'Liberation Mono',monospace;font-size:10.3px;letter-spacing:-0.49px;line-height:12px;white-space:nowrap;color:#d2d2d2">|</div>
<div class="a" style="left:139.8px;top:237.3px;font-family:'Liberation Mono',monospace;font-size:10.3px;letter-spacing:-0.49px;line-height:12px;white-space:nowrap;color:#5a5a5a">dragonfruit</div>
<div class="a" style="left:209.3px;top:237.3px;font-family:'Liberation Mono',monospace;font-size:10.3px;letter-spacing:-0.49px;line-height:12px;white-space:nowrap;color:#d2d2d2">|</div>
<div class="a" style="left:219.1px;top:237.3px;font-family:'Liberation Mono',monospace;font-size:10.3px;letter-spacing:-0.49px;line-height:12px;white-space:nowrap;color:#5a5a5a">apache_gob_test</div>
<div class="a" style="left:310.5px;top:237.3px;font-family:'Liberation Mono',monospace;font-size:10.3px;letter-spacing:-0.49px;line-height:12px;white-space:nowrap;color:#d2d2d2">|</div>
<div class="a" style="left:320.5px;top:237.3px;font-family:'Liberation Mono',monospace;font-size:10.3px;letter-spacing:-0.49px;line-height:12px;white-space:nowrap;color:#5a5a5a">apache</div>
<div class="a" style="left:366.1px;top:237.3px;font-family:'Liberation Mono',monospace;font-size:10.3px;letter-spacing:-0.49px;line-height:12px;white-space:nowrap;color:#d2d2d2">|</div>
<div class="a" style="left:376.5px;top:237.3px;font-family:'Liberation Mono',monospace;font-size:10.3px;letter-spacing:-0.49px;line-height:12px;white-space:nowrap;color:#5a5a5a">Info</div>
<div class="a" style="left:16.5px;top:254.5px;width:65px;height:7.3px;background:linear-gradient(90deg,#cdcdcd 0%,#d6d6d6 18%,#c9c9c9 30%,#d3d3d3 45%,#cbcbcb 60%,#d8d8d8 80%,#e2e2e2 100%)"></div>
<div class="a" style="left:16.5px;top:261.8px;width:65px;height:2.5px;background:#efefef"></div>
<div class="a" style="left:88.5px;top:254.5px;width:8px;height:9.5px;background:#dedede"></div>
<div class="a" style="left:102.5px;top:253.6px;font-family:'Liberation Mono',monospace;font-size:10.3px;letter-spacing:-0.49px;line-height:12px;white-space:nowrap"><span style="color:#b5b5b5">- - [06/Jun/2018:15:30:38 -0400] "</span><span style="color:#2b2b2b">POST /search HTTP/1.1</span><span style="color:#b5b5b5">"</span> <span style="color:#3dbd5c">200 1667</span></div>
<div class="a" style="left:18.0px;top:268.9px;font-family:'Liberation Mono',monospace;font-size:10.3px;letter-spacing:-0.49px;line-height:12px;white-space:nowrap"><span style="color:#b5b5b5">"-" "</span><span style="color:#2b2b2b">python</span><span style="color:#b5b5b5">-</span><span style="color:#2b2b2b">requests/</span><span style="color:#3dbd5c">2.18.4</span><span style="color:#b5b5b5">"</span> <span style="color:#3dbd5c">11407</span></div>
<div class="a sep" style="left:0;top:284.1px;width:499px;background:#e8e8eb"></div>
<div class="a" style="left:5.0px;top:287.8px;width:4.7px;height:42.6px;background:#92c8e3;border-radius:2.4px"></div>
<div class="a" style="left:18.0px;top:286.6px;font-family:'Liberation Mono',monospace;font-size:10.3px;letter-spacing:-0.49px;line-height:12px;white-space:nowrap;color:#5a5a5a">Jun 06 15:30:38.000</div>
<div class="a" style="left:129.6px;top:286.6px;font-family:'Liberation Mono',monospace;font-size:10.3px;letter-spacing:-0.49px;line-height:12px;white-space:nowrap;color:#d2d2d2">|</div>
<div class="a" style="left:139.8px;top:286.6px;font-family:'Liberation Mono',monospace;font-size:10.3px;letter-spacing:-0.49px;line-height:12px;white-space:nowrap;color:#5a5a5a">dragonfruit</div>
<div class="a" style="left:209.3px;top:286.6px;font-family:'Liberation Mono',monospace;font-size:10.3px;letter-spacing:-0.49px;line-height:12px;white-space:nowrap;color:#d2d2d2">|</div>
<div class="a" style="left:219.1px;top:286.6px;font-family:'Liberation Mono',monospace;font-size:10.3px;letter-spacing:-0.49px;line-height:12px;white-space:nowrap;color:#5a5a5a">apache_gob_test</div>
<div class="a" style="left:310.5px;top:286.6px;font-family:'Liberation Mono',monospace;font-size:10.3px;letter-spacing:-0.49px;line-height:12px;white-space:nowrap;color:#d2d2d2">|</div>
<div class="a" style="left:320.5px;top:286.6px;font-family:'Liberation Mono',monospace;font-size:10.3px;letter-spacing:-0.49px;line-height:12px;white-space:nowrap;color:#5a5a5a">apache</div>
<div class="a" style="left:366.1px;top:286.6px;font-family:'Liberation Mono',monospace;font-size:10.3px;letter-spacing:-0.49px;line-height:12px;white-space:nowrap;color:#d2d2d2">|</div>
<div class="a" style="left:376.5px;top:286.6px;font-family:'Liberation Mono',monospace;font-size:10.3px;letter-spacing:-0.49px;line-height:12px;white-space:nowrap;color:#5a5a5a">Info</div>
<div class="a" style="left:16.5px;top:303.8px;width:65px;height:7.3px;background:linear-gradient(90deg,#cdcdcd 0%,#d6d6d6 18%,#c9c9c9 30%,#d3d3d3 45%,#cbcbcb 60%,#d8d8d8 80%,#e2e2e2 100%)"></div>
<div class="a" style="left:16.5px;top:311.1px;width:65px;height:2.5px;background:#efefef"></div>
<div class="a" style="left:88.5px;top:303.8px;width:8px;height:9.5px;background:#dedede"></div>
<div class="a" style="left:102.5px;top:302.9px;font-family:'Liberation Mono',monospace;font-size:10.3px;letter-spacing:-0.49px;line-height:12px;white-space:nowrap"><span style="color:#b5b5b5">- - [06/Jun/2018:15:30:38 -0400] "</span><span style="color:#2b2b2b">POST /search HTTP/1.1</span><span style="color:#b5b5b5">"</span> <span style="color:#3dbd5c">200 1442</span></div>
<div class="a" style="left:18.0px;top:318.2px;font-family:'Liberation Mono',monospace;font-size:10.3px;letter-spacing:-0.49px;line-height:12px;white-space:nowrap"><span style="color:#b5b5b5">"-" "</span><span style="color:#2b2b2b">python</span><span style="color:#b5b5b5">-</span><span style="color:#2b2b2b">requests/</span><span style="color:#3dbd5c">2.18.4</span><span style="color:#b5b5b5">"</span> <span style="color:#3dbd5c">6954</span></div>
<div class="a sep" style="left:0;top:333.4px;width:499px;background:#e8e8eb"></div>
<div class="a" style="left:5.0px;top:337.1px;width:4.7px;height:42.6px;background:#92c8e3;border-radius:2.4px"></div>
<div class="a" style="left:18.0px;top:335.9px;font-family:'Liberation Mono',monospace;font-size:10.3px;letter-spacing:-0.49px;line-height:12px;white-space:nowrap;color:#5a5a5a">Jun 06 15:30:38.000</div>
<div class="a" style="left:129.6px;top:335.9px;font-family:'Liberation Mono',monospace;font-size:10.3px;letter-spacing:-0.49px;line-height:12px;white-space:nowrap;color:#d2d2d2">|</div>
<div class="a" style="left:139.8px;top:335.9px;font-family:'Liberation Mono',monospace;font-size:10.3px;letter-spacing:-0.49px;line-height:12px;white-space:nowrap;color:#5a5a5a">dragonfruit</div>
<div class="a" style="left:209.3px;top:335.9px;font-family:'Liberation Mono',monospace;font-size:10.3px;letter-spacing:-0.49px;line-height:12px;white-space:nowrap;color:#d2d2d2">|</div>
<div class="a" style="left:219.1px;top:335.9px;font-family:'Liberation Mono',monospace;font-size:10.3px;letter-spacing:-0.49px;line-height:12px;white-space:nowrap;color:#5a5a5a">apache_gob_test</div>
<div class="a" style="left:310.5px;top:335.9px;font-family:'Liberation Mono',monospace;font-size:10.3px;letter-spacing:-0.49px;line-height:12px;white-space:nowrap;color:#d2d2d2">|</div>
<div class="a" style="left:320.5px;top:335.9px;font-family:'Liberation Mono',monospace;font-size:10.3px;letter-spacing:-0.49px;line-height:12px;white-space:nowrap;color:#5a5a5a">apache</div>
<div class="a" style="left:366.1px;top:335.9px;font-family:'Liberation Mono',monospace;font-size:10.3px;letter-spacing:-0.49px;line-height:12px;white-space:nowrap;color:#d2d2d2">|</div>
<div class="a" style="left:376.5px;top:335.9px;font-family:'Liberation Mono',monospace;font-size:10.3px;letter-spacing:-0.49px;line-height:12px;white-space:nowrap;color:#5a5a5a">Info</div>
</div>
<!--/LOGS-->
<div class="a w" style="left:956.5px;top:501.8px;width:507.2px;height:174.6px"></div>
<div class="a" style="left:965px;top:504.5px;font-size:12px;line-height:14px;letter-spacing:0.4px;color:#8b8e92;white-space:nowrap">Service-level latency distribution</div>
<div class="a bd" style="left:1443.5px;top:505.2px;width:18.3px;height:12.8px;font-size:10px;line-height:12.8px">4h</div>
<div class="a sep" style="left:957.5px;top:520px;width:505px;background:#ededf0"></div>
<div class="a" style="left:1456.8px;top:521px;width:6.5px;height:155px;background:#f0f0f0"></div>
<div class="a" style="left:1457px;top:521px;width:6.2px;height:149.6px;background:#a2a2a2;border-radius:3px"></div>
<div class="a" style="left:969.2px;top:528.5px;font-size:10px;line-height:12px;color:#333;white-space:nowrap">Latency Distribution</div>
<div class="a" style="left:1327.5px;top:524.5px;width:119.8px;height:20.1px;border:1px solid #dcdcdc;border-radius:3px;background:#fff;overflow:hidden">
<div class="a" style="left:31px;top:0;width:1px;height:19px;background:#dcdcdc"></div>
<div class="a" style="left:61.6px;top:0;width:30.8px;height:19px;background:#7a4aa9"></div>
</div>
<div class="a" style="left:1327.5px;top:529px;width:31.8px;text-align:center;font-size:10px;line-height:12px;color:#333">p90</div>
<div class="a" style="left:1359.3px;top:529px;width:30.8px;text-align:center;font-size:10px;line-height:12px;color:#333">p95</div>
<div class="a" style="left:1390.1px;top:529px;width:30.8px;text-align:center;font-size:10px;line-height:12px;color:#fff;font-weight:bold">p99</div>
<div class="a" style="left:1420.9px;top:529px;width:26.4px;text-align:center;font-size:10px;line-height:12px;color:#333">All</div>
<div class="a sep" style="left:965.4px;top:548.3px;width:486px;background:#ececee"></div>
<svg class="a" style="left:957px;top:549px" width="500" height="127" viewBox="957 549 500 127">
<g stroke="#efeff1" stroke-width="1"><line x1="994.4" x2="1440" y1="588.5" y2="588.5"/><line x1="994.4" x2="1440" y1="611.5" y2="611.5"/><line x1="994.4" x2="1440" y1="634.5" y2="634.5"/></g>
<g stroke="#c4c4c4" stroke-width="0.9" stroke-dasharray="3 3"><line x1="1149.4" x2="1149.4" y1="567" y2="657" /><line x1="1176.5" x2="1176.5" y1="567" y2="657" /><line x1="1226.4" x2="1226.4" y1="567" y2="657" /><line x1="1302.8" x2="1302.8" y1="567" y2="657" /><line x1="1440.6" x2="1440.6" y1="567" y2="657" /></g>
<g fill="#46a2d6"><rect x="1053.10" y="654.4" width="3.35" height="2.6"/><rect x="1057.55" y="654.4" width="3.35" height="2.6"/><rect x="1062.00" y="654.4" width="3.35" height="2.6"/><rect x="1066.45" y="654.4" width="3.35" height="2.6"/><rect x="1070.90" y="645.7" width="3.35" height="11.3"/><rect x="1075.35" y="606.6" width="3.35" height="50.4"/><rect x="1079.80" y="590.2" width="3.35" height="66.8"/><rect x="1084.25" y="570.9" width="3.35" height="86.1"/><rect x="1088.70" y="591.7" width="3.35" height="65.3"/><rect x="1093.15" y="606.6" width="3.35" height="50.4"/><rect x="1097.60" y="618.4" width="3.35" height="38.6"/><rect x="1102.05" y="630.2" width="3.35" height="26.8"/><rect x="1106.50" y="636.4" width="3.35" height="20.6"/><rect x="1110.95" y="640.7" width="3.35" height="16.3"/><rect x="1115.40" y="643.0" width="3.35" height="14.0"/><rect x="1119.85" y="643.9" width="3.35" height="13.1"/><rect x="1124.30" y="641.4" width="3.35" height="15.6"/><rect x="1128.75" y="637.6" width="3.35" height="19.4"/><rect x="1133.20" y="623.1" width="3.35" height="33.9"/><rect x="1137.65" y="616.5" width="3.35" height="40.5"/><rect x="1142.10" y="595.8" width="3.35" height="61.2"/><rect x="1146.55" y="590.1" width="3.35" height="66.9"/><rect x="1151.00" y="575.5" width="3.35" height="81.5"/><rect x="1155.45" y="579.9" width="3.35" height="77.1"/><rect x="1159.90" y="595.8" width="3.35" height="61.2"/><rect x="1164.35" y="593.5" width="3.35" height="63.5"/><rect x="1168.80" y="617.4" width="3.35" height="39.6"/><rect x="1173.25" y="613.2" width="3.35" height="43.8"/><rect x="1177.70" y="644.0" width="3.35" height="13.0"/><rect x="1182.15" y="634.5" width="3.35" height="22.5"/><rect x="1186.60" y="636.1" width="3.35" height="20.9"/><rect x="1191.05" y="627.7" width="3.35" height="29.3"/><rect x="1195.50" y="643.8" width="3.35" height="13.2"/><rect x="1199.95" y="635.4" width="3.35" height="21.6"/><rect x="1204.40" y="636.2" width="3.35" height="20.8"/><rect x="1208.85" y="639.4" width="3.35" height="17.6"/><rect x="1213.30" y="644.0" width="3.35" height="13.0"/><rect x="1217.75" y="648.1" width="3.35" height="8.9"/><rect x="1222.20" y="648.1" width="3.35" height="8.9"/><rect x="1226.65" y="646.8" width="3.35" height="10.2"/><rect x="1231.10" y="646.8" width="3.35" height="10.2"/><rect x="1235.55" y="650.9" width="3.35" height="6.1"/><rect x="1240.00" y="650.9" width="3.35" height="6.1"/><rect x="1244.45" y="650.9" width="3.35" height="6.1"/><rect x="1248.90" y="653.1" width="3.35" height="3.9"/><rect x="1253.35" y="655.1" width="3.35" height="1.9"/><rect x="1257.80" y="655.1" width="3.35" height="1.9"/><rect x="1262.25" y="655.1" width="3.35" height="1.9"/><rect x="1266.70" y="655.1" width="3.35" height="1.9"/><rect x="1271.15" y="655.1" width="3.35" height="1.9"/><rect x="1275.60" y="655.1" width="3.35" height="1.9"/><rect x="1280.05" y="655.1" width="3.35" height="1.9"/><rect x="1284.50" y="653.8" width="3.35" height="3.2"/><rect x="1288.95" y="653.8" width="3.35" height="3.2"/><rect x="1293.40" y="653.8" width="3.35" height="3.2"/><rect x="1297.85" y="653.8" width="3.35" height="3.2"/><rect x="1302.30" y="656.0" width="3.35" height="1.0"/><rect x="1306.75" y="656.0" width="3.35" height="1.0"/><rect x="1311.20" y="656.0" width="3.35" height="1.0"/><rect x="1315.65" y="656.0" width="3.35" height="1.0"/><rect x="1320.10" y="656.0" width="3.35" height="1.0"/><rect x="1324.55" y="656.0" width="3.35" height="1.0"/><rect x="1329.00" y="656.0" width="3.35" height="1.0"/><rect x="1333.45" y="656.0" width="3.35" height="1.0"/><rect x="1337.90" y="656.0" width="3.35" height="1.0"/><rect x="1342.35" y="656.0" width="3.35" height="1.0"/></g>
<line x1="994.4" x2="1441.3" y1="657.4" y2="657.4" stroke="#444" stroke-width="1.1"/>
<g stroke="#444" stroke-width="1"><line x1="994.4" x2="994.4" y1="657" y2="661.5"/><line x1="1032.8" x2="1032.8" y1="657" y2="661.5"/><line x1="1071.2" x2="1071.2" y1="657" y2="661.5"/><line x1="1109.6" x2="1109.6" y1="657" y2="661.5"/><line x1="1148.0" x2="1148.0" y1="657" y2="661.5"/><line x1="1186.4" x2="1186.4" y1="657" y2="661.5"/><line x1="1224.8" x2="1224.8" y1="657" y2="661.5"/><line x1="1263.2" x2="1263.2" y1="657" y2="661.5"/><line x1="1301.6" x2="1301.6" y1="657" y2="661.5"/><line x1="1340.0" x2="1340.0" y1="657" y2="661.5"/><line x1="1378.4" x2="1378.4" y1="657" y2="661.5"/><line x1="1416.8" x2="1416.8" y1="657" y2="661.5"/><line x1="1441" x2="1441" y1="657" y2="661.5"/></g>
<g font-family="Liberation Sans" font-size="8" fill="#555" text-anchor="middle"><text x="994.4" y="669.5">0 ns</text><text x="1032.8" y="669.5">2.0 ms</text><text x="1071.2" y="669.5">4.0 ms</text><text x="1109.6" y="669.5">6.0 ms</text><text x="1148.0" y="669.5">8.0 ms</text><text x="1186.4" y="669.5">10.0 ms</text><text x="1224.8" y="669.5">12.0 ms</text><text x="1263.2" y="669.5">14.0 ms</text><text x="1301.6" y="669.5">16.0 ms</text><text x="1340.0" y="669.5">18.0 ms</text><text x="1378.4" y="669.5">20.0 ms</text><text x="1416.8" y="669.5">22.0 ms</text></g>
<g font-family="Liberation Sans" font-size="8" fill="#555" text-anchor="end"><text x="987.6" y="660">0</text><text x="987.6" y="637.2">0.50k</text><text x="987.6" y="614.3">1.00k</text><text x="987.6" y="591.3">1.50k</text></g>
<g font-family="Liberation Sans" font-size="8" fill="#333" text-anchor="middle"><text x="1149.4" y="563.5">p50</text><text x="1176.5" y="563.5">p75</text><text x="1226.4" y="563.5">p90</text><text x="1302.8" y="563.5">p95</text><text x="1440.6" y="563.5">p99</text></g>
</svg>
<div class="a" style="left:0;top:768px;width:1484px;height:77px;background:linear-gradient(to bottom,rgba(0,0,0,0) 0%,rgba(0,0,0,0.012) 30%,rgba(0,0,0,0.035) 65%,rgba(0,0,0,0.058) 100%);-webkit-mask-image:linear-gradient(to right,rgba(0,0,0,0.55) 0px,#000 120px,#000 1320px,rgba(0,0,0,0) 1435px);mask-image:linear-gradient(to right,rgba(0,0,0,0.55) 0px,#000 120px,#000 1320px,rgba(0,0,0,0) 1435px)"></div>
<!--BG-->



</body></html>
